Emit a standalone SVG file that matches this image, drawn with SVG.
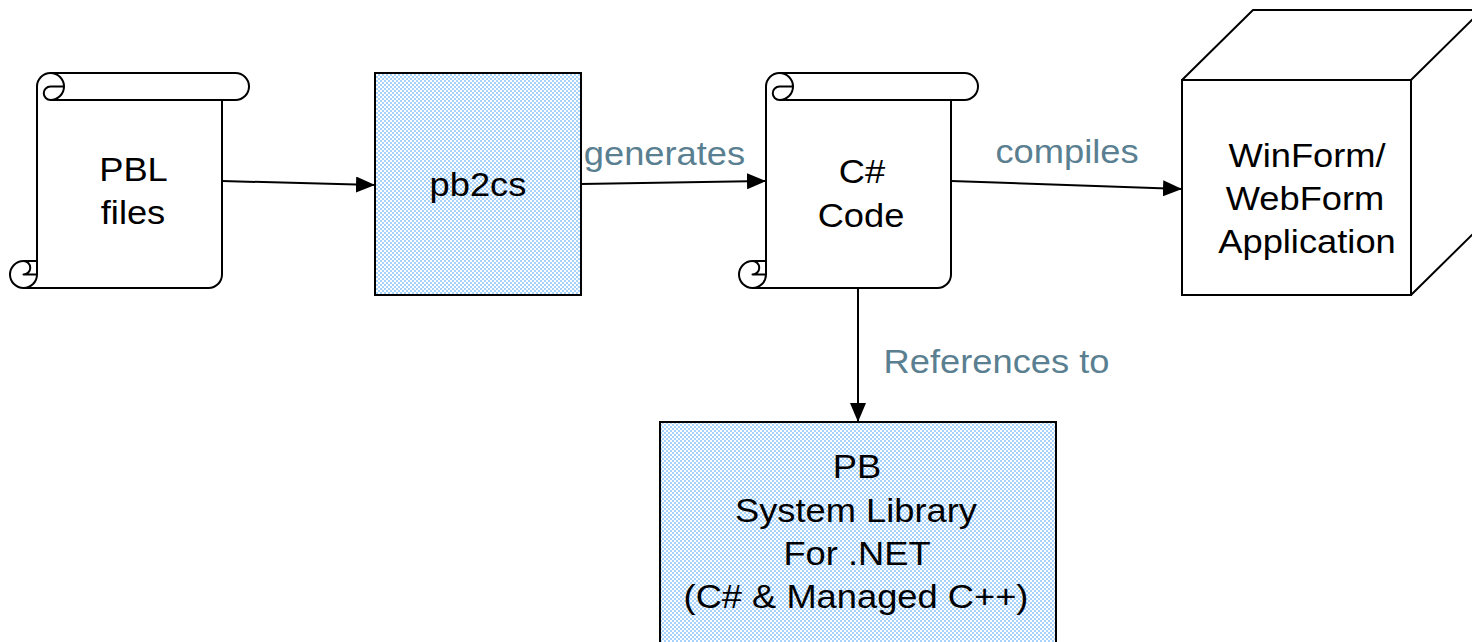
<svg xmlns="http://www.w3.org/2000/svg" width="1472" height="642" viewBox="0 0 1472 642">
<defs>
<pattern id="chk" width="4" height="4" patternUnits="userSpaceOnUse">
<rect width="4" height="4" fill="#ffffff"/>
<rect width="2" height="2" fill="#a6d2fc"/>
<rect x="2" y="2" width="2" height="2" fill="#a6d2fc"/>
</pattern>
<marker id="arr" viewBox="0 0 19 16" refX="19" refY="8" markerWidth="19" markerHeight="16" markerUnits="userSpaceOnUse" orient="auto">
<path d="M0,0 L19,8 L0,16 Z" fill="#000"/>
</marker>
<g id="scroll">
<path d="M27,188 L27,13.5 A13.5,13.5 0 0 1 40.5,0 L225.5,0 A13.5,13.5 0 0 1 225.5,27 L212,27 L212,201.5 A13.5,13.5 0 0 1 198.5,215 L13.5,215 A13.5,13.5 0 0 1 13.5,188 Z" fill="#fff"/>
<path d="M27,188 L27,13.5 A13.5,13.5 0 0 1 40.5,0 L225.5,0 A13.5,13.5 0 0 1 225.5,27 L212,27 L212,201.5 A13.5,13.5 0 0 1 198.5,215 L13.5,215 A13.5,13.5 0 0 1 13.5,188 Z M40.5,0 A13.5,13.5 0 0 1 40.5,27 A6.75,6.75 0 0 1 40.5,13.5 L54,13.5 M212,27 L40.5,27 M13.5,188 A6.75,6.75 0 0 1 13.5,201.5 L27,201.5 M13.5,215 A13.5,13.5 0 0 0 27,201.5 L27,188" class="ln"/>
</g>
</defs>
<style>
.ln{fill:none;stroke:#000;stroke-width:2;stroke-linejoin:round}
.box{fill:url(#chk);stroke:#000;stroke-width:2}
.t{font-family:"Liberation Sans",Arial,sans-serif;font-size:33px;fill:#000;text-anchor:middle}
.lb{font-family:"Liberation Sans",Arial,sans-serif;font-size:33px;fill:#5a7f91;text-anchor:middle}
.cn{fill:none;stroke:#000;stroke-width:2;marker-end:url(#arr)}
</style>
<rect width="1472" height="642" fill="#fff"/>
<g id="pbl">
<use href="#scroll" transform="translate(10,73)"/>
<text class="t" transform="translate(133.5,181) scale(1.1,1)">PBL</text>
<text class="t" transform="translate(133,224) scale(1.1,1)">files</text>
</g>
<g id="pb2cs">
<rect class="box" x="375" y="73" width="206" height="222"/>
<text class="t" transform="translate(478,196) scale(1.1,1)">pb2cs</text>
</g>
<g id="csharp">
<use href="#scroll" transform="translate(739,73)"/>
<text class="t" transform="translate(862,183) scale(1.1,1)">C#</text>
<text class="t" transform="translate(861,227) scale(1.1,1)">Code</text>
</g>
<g id="app">
<path class="ln" d="M1182,80 L1253,10 L1482,10 L1411,80 Z M1411,80 L1482,10 L1482,225 L1411,295 Z" style="fill:#fff"/>
<rect x="1182" y="80" width="229" height="215" fill="#fff" stroke="#000" stroke-width="2"/>
<text class="t" transform="translate(1307,167) scale(1.1,1)">WinForm/</text>
<text class="t" transform="translate(1305,210) scale(1.1,1)">WebForm</text>
<text class="t" transform="translate(1307,253) scale(1.1,1)">Application</text>
</g>
<g id="pblib">
<rect class="box" x="660" y="422" width="396" height="240"/>
<text class="t" transform="translate(857,478) scale(1.1,1)">PB</text>
<text class="t" transform="translate(856,522) scale(1.1,1)">System Library</text>
<text class="t" transform="translate(857,565) scale(1.1,1)">For .NET</text>
<text class="t" transform="translate(856,608) scale(1.1,1)">(C# &amp; Managed C++)</text>
</g>
<g id="connectors">
<line class="cn" x1="222" y1="181" x2="375" y2="185"/>
<line class="cn" x1="581" y1="184" x2="766" y2="181"/>
<line class="cn" x1="951" y1="181" x2="1182" y2="189"/>
<line class="cn" x1="858" y1="288" x2="858" y2="422"/>
<text class="lb" transform="translate(664.5,165) scale(1.1,1)">generates</text>
<text class="lb" transform="translate(1067,163) scale(1.1,1)">compiles</text>
<text class="lb" transform="translate(996.5,373) scale(1.1,1)">References to</text>
</g>
</svg>
